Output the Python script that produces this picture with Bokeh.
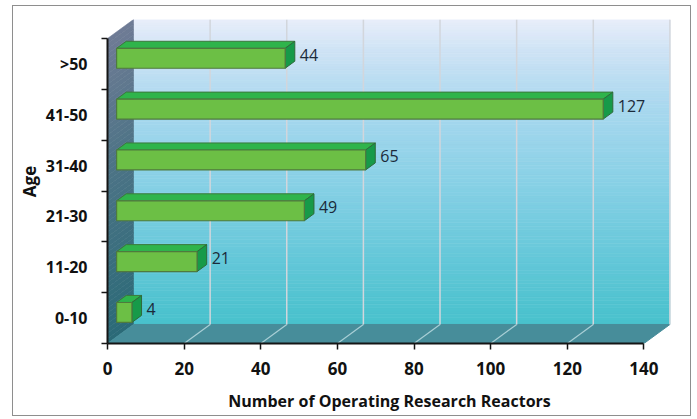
import numpy as np
from bokeh.plotting import figure
from bokeh.models import Range1d, FixedTicker, Title
from bokeh.core.properties import value
from bokeh.embed import file_html
from bokeh.resources import INLINE

# ---- data ----
categories = ["0-10", "11-20", "21-30", "31-40", "41-50", ">50"]
counts = [4, 21, 49, 65, 127, 44]
x_ticks = [0, 20, 40, 60, 80, 100, 120, 140]
x_max = 140

# ---- 3D geometry (in data units) ----
DX = 6.786      # depth offset along value axis
DY = 0.374      # depth offset along category axis
F1, F2 = 0.35, 0.72
HH = 0.196
COFF = F1 * DY - 0.02

p = figure(width=679, height=411,
           x_range=Range1d(0, 147.2), y_range=Range1d(0, 6 + DY),
           output_backend="svg", toolbar_location=None,
           min_border_left=94, min_border_top=13,
           min_border_right=21, min_border_bottom=74)
p.styles = {"position": "absolute", "left": "12px", "top": "5px",
            "border": "1px solid #8e8e8e"}
p.background_fill_color = "white"
p.border_fill_color = "white"
p.outline_line_color = None
p.xgrid.visible = False
p.ygrid.visible = False


def hex2rgb(h):
    h = h.lstrip("#")
    return np.array([int(h[i:i + 2], 16) for i in (0, 2, 4)], dtype=float)


def gradient(stops, n):
    ts = np.array([s[0] for s in stops])
    cs = np.array([hex2rgb(s[1]) for s in stops])
    out = []
    for k in range(n):
        t = (k + 0.5) / n
        rgb = [np.interp(t, ts, cs[:, j]) for j in range(3)]
        out.append("#%02x%02x%02x" % tuple(int(round(v)) for v in rgb))
    return out


# back wall (gradient top -> bottom)
N = 90
wall_cols = gradient([(0.0, "#e8eefa"), (0.10, "#cfe3f5"), (0.28, "#aad8ef"),
                      (0.55, "#86d0e5"), (0.8, "#62c7d8"), (1.0, "#48c1cc")], N)
edges = np.linspace(6 + DY, DY, N + 1)
p.quad(left=DX, right=x_max + DX, top=edges[:-1], bottom=edges[1:],
       fill_color=wall_cols, line_color=wall_cols, line_width=0.6)

# left wall
NL = 60
left_cols = gradient([(0.0, "#6f7b95"), (0.4, "#4f7487"), (1.0, "#2a6a77")], NL)
le = np.linspace(6, 0, NL + 1)
p.patches(xs=[[0, DX, DX, 0] for _ in range(NL)],
          ys=[[le[k], le[k] + DY, le[k + 1] + DY, le[k + 1]] for k in range(NL)],
          fill_color=left_cols, line_color=left_cols, line_width=0.6)

# floor
p.patch(x=[0, x_max, x_max + DX, DX], y=[0, 0, DY, DY],
        fill_color="#478d9a", line_color="#478d9a")

# gridlines on back wall and floor
gv = [t for t in x_ticks if t > 0]
p.segment(x0=[t + DX for t in gv], y0=DY, x1=[t + DX for t in gv], y1=6 + DY,
          line_color="#d2d6dc", line_width=1.5)
p.segment(x0=[t for t in gv if t < x_max], y0=0,
          x1=[t + DX for t in gv if t < x_max], y1=DY,
          line_color="#a9cfd6", line_width=1.2)

# bars
ddx = (F2 - F1) * DX
ddy = (F2 - F1) * DY
x0 = F1 * DX
fx, fy, tx, ty, sx, sy = [], [], [], [], [], []
for i, v in enumerate(counts):
    c = i + 0.5 + COFF
    yb, yt = c - HH, c + HH
    x1 = v + x0
    fx.append([x0, x1, x1, x0]); fy.append([yb, yb, yt, yt])
    tx.append([x0, x1, x1 + ddx, x0 + ddx]); ty.append([yt, yt, yt + ddy, yt + ddy])
    sx.append([x1, x1 + ddx, x1 + ddx, x1]); sy.append([yb, yb + ddy, yt + ddy, yt])
p.patches(xs=tx, ys=ty, fill_color="#2fb44b", line_color="#3b7a3c", line_width=1)
p.patches(xs=sx, ys=sy, fill_color="#179a49", line_color="#2f6a3a", line_width=1)
p.patches(xs=fx, ys=fy, fill_color="#6cbf45", line_color="#4f7a3e", line_width=1.2)

# data labels
p.text(x=[v + F2 * DX for v in counts],
       y=[i + 0.5 + COFF + ddy / 2 for i in range(len(counts))],
       text=[str(v) for v in counts], x_offset=5,
       text_font=value("Open Sans"), text_font_size="16px",
       text_color="#1b2a3a", text_baseline="middle", text_align="left")

# axes
ax = p.xaxis[0]
ax.ticker = FixedTicker(ticks=x_ticks)
ax.bounds = (0, x_max)
ax.axis_line_width = 2
ax.axis_line_color = "#151515"
ax.major_tick_out = 6
ax.major_tick_in = 0
ax.major_tick_line_color = "#151515"
ax.major_tick_line_width = 1.5
ax.minor_tick_line_color = None
ax.major_label_standoff = 12
ax.major_label_text_font = "Open Sans"
ax.major_label_text_font_style = "bold"
ax.major_label_text_font_size = "17px"
ax.major_label_text_color = "#111111"
ax.axis_label = "Number of Operating Research Reactors"
ax.axis_label_text_font = "Open Sans"
ax.axis_label_text_font_style = "bold"
ax.axis_label_text_font_size = "16px"
ax.axis_label_text_color = "#111111"
ax.axis_label_standoff = 12

ay = p.yaxis[0]
ay.ticker = FixedTicker(ticks=[i + 0.5 for i in range(len(categories))],
                        minor_ticks=list(range(len(categories) + 1)))
ay.major_label_overrides = {i + 0.5: c for i, c in enumerate(categories)}
ay.bounds = (0, len(categories))
ay.axis_line_width = 2
ay.axis_line_color = "#151515"
ay.major_tick_out = 0
ay.major_tick_in = 0
ay.minor_tick_out = 6
ay.minor_tick_in = 0
ay.minor_tick_line_color = "#151515"
ay.minor_tick_line_width = 1.5
ay.major_label_standoff = 14
ay.major_label_text_font = "Open Sans"
ay.major_label_text_font_style = "bold"
ay.major_label_text_font_size = "16px"
ay.major_label_text_color = "#111111"

# y-axis title as a left-side title beside the tick labels
p.add_layout(Title(text="Age", align="center", standoff=0, vertical_align="top",
                   text_font="Open Sans", text_font_style="bold",
                   text_font_size="17px", text_color="#111111"), "left")

open("out.html", "w").write(file_html(p, INLINE))
